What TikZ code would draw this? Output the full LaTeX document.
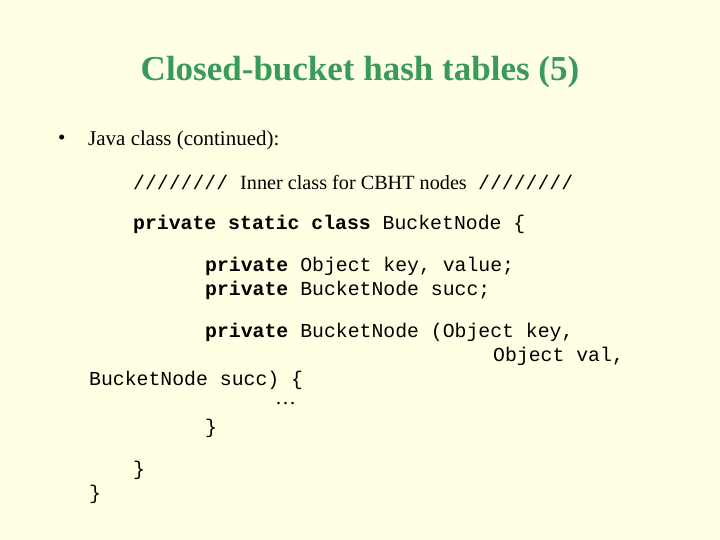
\documentclass[tikz,border=0pt]{standalone}
\usepackage{fontspec}
\setmainfont{Liberation Serif}
\setmonofont{Liberation Mono}
\definecolor{bg}{HTML}{FFFFE3}
\definecolor{ttl}{HTML}{3A9A5C}
\begin{document}
\begin{tikzpicture}[x=1pt,y=-1pt,
  txt/.style={anchor=west,inner sep=0pt,font=\fontsize{21}{24}\selectfont},
  code/.style={anchor=west,inner sep=0pt,font=\ttfamily\fontsize{19.8}{22}\selectfont}]
\fill[bg] (0,0) rectangle (720,540);
\useasboundingbox (0,0) rectangle (720,540);
\node[inner sep=0pt,text=ttl,font=\bfseries\fontsize{35}{40}\selectfont] (title) at (360,72) {Closed-bucket hash tables (5)};
\node[txt] (b) at (58,140) {•};
\node[txt] (l1) at (88,140) {Java class (continued):};
\node[code] (s1) at (133,182) {////////};
\node[txt,font=\fontsize{20.2}{22}\selectfont] (l2) at (240,182) {Inner class for CBHT nodes};
\node[code] (s2) at (478,182) {////////};
\node[code] (l3) at (133,224) {\textbf{private static class} BucketNode \{};
\node[code] (l4) at (205,266) {\textbf{private} Object key, value;};
\node[code] (l5) at (205,290) {\textbf{private} BucketNode succ;};
\node[code] (l6) at (205,332) {\textbf{private} BucketNode (Object key,};
\node[code] (l7) at (493,356) {Object val,};
\node[code] (l8) at (89,380) {BucketNode succ) \{};
\node[txt] (l9) at (275,404) {…};
\node[code] (l10) at (205,428) {\}};
\node[code] (l11) at (133,470) {\}};
\node[code] (l12) at (89,494) {\}};
\end{tikzpicture}
\end{document}
